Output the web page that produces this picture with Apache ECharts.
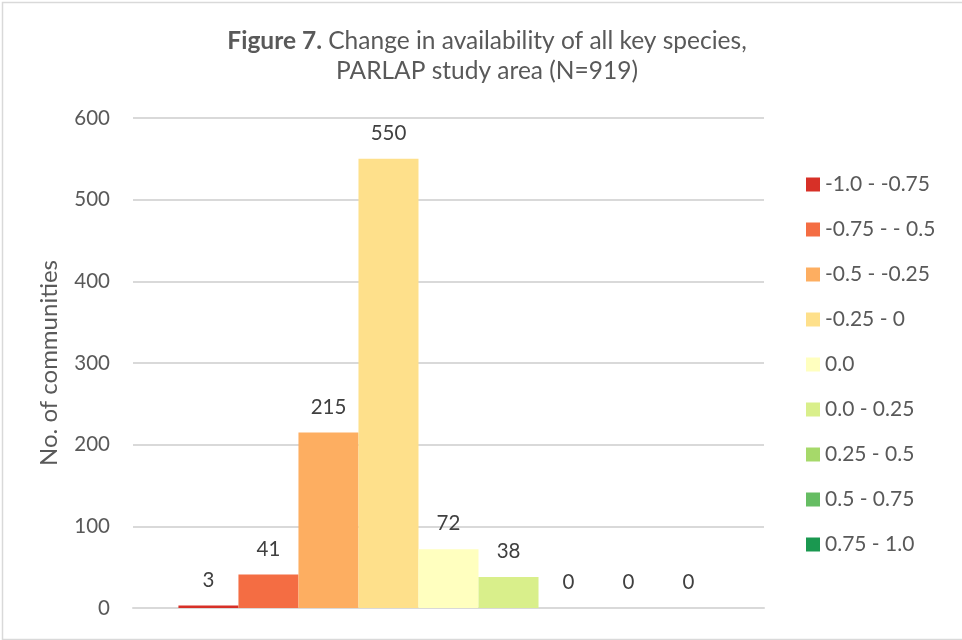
<!DOCTYPE html>
<html>
<head>
<meta charset="utf-8">
<script src="https://cdn.jsdelivr.net/npm/echarts@6/dist/echarts.min.js"></script>
<style>
  html, body { margin: 0; padding: 0; background: #fff; }
  #chart { width: 962px; height: 640px; }
</style>
</head>
<body>
<div id="chart"></div>
<script>
// Availability change classes and number of communities in each
const classNames = ['-1.0 - -0.75', '-0.75 - - 0.5', '-0.5 - -0.25', '-0.25 - 0', '0.0',
                    '0.0 - 0.25', '0.25 - 0.5', '0.5 - 0.75', '0.75 - 1.0'];
const communityCounts = [3, 41, 215, 550, 72, 38, 0, 0, 0];
const classColors = ['#d73027', '#f46d43', '#fdae61', '#fee08b', '#ffffbf',
                     '#d9ef8b', '#a6d96a', '#66bd63', '#1a9850'];
const yTicks = { min: 0, max: 600, interval: 100 };

const FONT = 'Lato, "Open Sans", sans-serif';

const chart = echarts.init(document.getElementById('chart'), null, { renderer: 'canvas' });

const series = classNames.map((name, i) => ({
  name: name,
  type: 'bar',
  data: [communityCounts[i]],
  barGap: '0%',
  barCategoryGap: '14.4%',
  itemStyle: { color: classColors[i] },
  label: {
    show: true,
    position: 'top',
    distance: 15,
    color: '#404040',
    fontFamily: FONT,
    fontSize: 20.5
  }
}));

chart.setOption({
  animation: false,
  backgroundColor: '#ffffff',
  graphic: [{
    type: 'rect',
    left: 0, top: 0,
    shape: { x: 0.5, y: 0.5, width: 975, height: 637 },
    style: { fill: 'none', stroke: '#d9d9d9', lineWidth: 1.5 },
    silent: true
  }],
  title: {
    text: '{b|Figure 7.} Change in availability of all key species,\nPARLAP study area (N=919)',
    left: 482,
    textAlign: 'center',
    top: 21,
    textStyle: {
      color: '#595959',
      fontFamily: FONT,
      fontSize: 24.5,
      fontWeight: 'normal',
      lineHeight: 30,
      rich: {
        b: { fontWeight: 'bold', color: '#595959', fontFamily: FONT, fontSize: 24.5, lineHeight: 30 }
      }
    }
  },
  legend: {
    orient: 'vertical',
    left: 801,
    top: 169,
    itemWidth: 14,
    itemHeight: 14,
    itemGap: 24,
    icon: 'rect',
    textStyle: { color: '#595959', fontFamily: FONT, fontSize: 21 },
    data: classNames
  },
  grid: { left: 133, right: 198, top: 118, bottom: 32, containLabel: false },
  xAxis: {
    type: 'category',
    data: [''],
    axisLine: { show: true, lineStyle: { color: '#d9d9d9', width: 2 } },
    axisTick: { show: false },
    axisLabel: { show: false }
  },
  yAxis: {
    type: 'value',
    min: yTicks.min,
    max: yTicks.max,
    interval: yTicks.interval,
    name: 'No. of communities',
    nameLocation: 'middle',
    nameGap: 72,
    nameRotate: 90,
    nameTextStyle: { color: '#595959', fontFamily: FONT, fontSize: 24 },
    axisLine: { show: false },
    axisTick: { show: false },
    axisLabel: { color: '#595959', fontFamily: FONT, fontSize: 20.5, margin: 23 },
    splitLine: { lineStyle: { color: '#d9d9d9', width: 2 } }
  },
  series: series
});
</script>
</body>
</html>
